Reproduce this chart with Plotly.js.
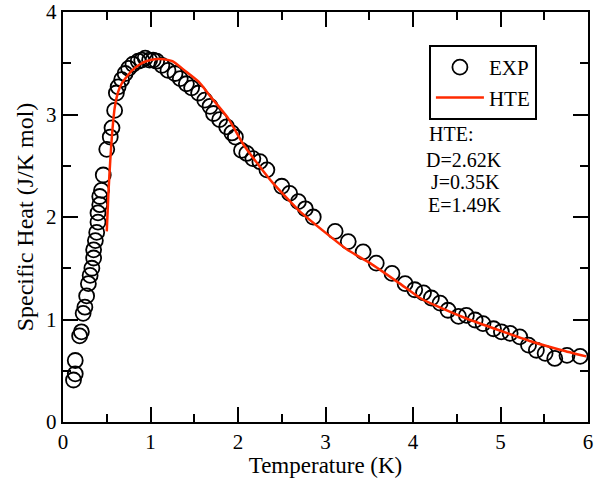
<!DOCTYPE html>
<html>
<head>
<meta charset="utf-8">
<script src="https://cdn.plot.ly/plotly-3.0.1.min.js"></script>
<style>html,body{margin:0;padding:0;background:#fff;}#chart{width:611px;height:478px;}</style>
</head>
<body>
<div id="chart"></div>
<script>
// Experimental specific heat (J/K mol) vs temperature (K)
var expT = [0.12, 0.14, 0.14, 0.19, 0.21, 0.23, 0.25, 0.27, 0.29, 0.31, 0.33, 0.35, 0.35, 0.37, 0.385, 0.40, 0.40, 0.42, 0.42, 0.44, 0.46, 0.50, 0.54, 0.56, 0.59, 0.61, 0.63, 0.67, 0.71, 0.75, 0.80, 0.86, 0.90, 0.94, 0.99, 1.03, 1.07, 1.13, 1.20, 1.28, 1.34, 1.41, 1.47, 1.55, 1.62, 1.68, 1.72, 1.79, 1.87, 1.93, 1.97, 2.04, 2.10, 2.17, 2.25, 2.33, 2.50, 2.59, 2.69, 2.77, 2.86, 3.11, 3.26, 3.43, 3.58, 3.76, 3.91, 4.02, 4.12, 4.21, 4.31, 4.40, 4.52, 4.61, 4.71, 4.80, 4.92, 5.01, 5.11, 5.22, 5.32, 5.41, 5.51, 5.62, 5.76, 5.91];
var expC = [0.41, 0.47, 0.60, 0.84, 0.88, 1.06, 1.12, 1.23, 1.35, 1.43, 1.50, 1.60, 1.68, 1.77, 1.85, 1.95, 2.04, 2.12, 2.20, 2.26, 2.41, 2.66, 2.78, 2.87, 3.04, 3.21, 3.27, 3.34, 3.40, 3.45, 3.49, 3.52, 3.53, 3.55, 3.53, 3.53, 3.52, 3.48, 3.43, 3.40, 3.35, 3.30, 3.26, 3.21, 3.14, 3.08, 3.01, 2.95, 2.88, 2.82, 2.78, 2.65, 2.62, 2.57, 2.54, 2.46, 2.30, 2.23, 2.15, 2.08, 2.00, 1.86, 1.76, 1.66, 1.55, 1.45, 1.35, 1.29, 1.26, 1.21, 1.16, 1.09, 1.03, 1.04, 0.995, 0.96, 0.91, 0.88, 0.865, 0.83, 0.75, 0.70, 0.67, 0.62, 0.65, 0.64];

// High-temperature expansion fit
var hteT = [0.50, 0.52, 0.54, 0.56, 0.59, 0.63, 0.67, 0.73, 0.79, 0.88, 0.95, 1.05, 1.15, 1.25, 1.39, 1.55, 1.70, 1.89, 2.06, 2.25, 2.40, 2.70, 3.01, 3.25, 3.51, 3.85, 4.08, 4.30, 4.61, 5.00, 5.37, 5.70, 5.98];
var hteC = [1.86, 2.25, 2.55, 2.80, 3.06, 3.22, 3.30, 3.37, 3.43, 3.49, 3.52, 3.54, 3.54, 3.52, 3.43, 3.32, 3.16, 2.96, 2.71, 2.49, 2.33, 2.06, 1.84, 1.68, 1.55, 1.35, 1.21, 1.12, 1.01, 0.89, 0.78, 0.70, 0.64];

var xTicks = [0, 1, 2, 3, 4, 5, 6];
var yTicks = [0, 1, 2, 3, 4];
var seriesNames = ["EXP", "HTE"];
var fitLabels = ["HTE:", "D=2.62K", "J=0.35K", "E=1.49K"];

var FONT = "'Liberation Serif', 'Times New Roman', Times, serif";

var traces = [
  {
    x: expT, y: expC, name: seriesNames[0], type: "scatter", mode: "markers",
    marker: {symbol: "circle-open", size: 15, color: "#000", line: {width: 1.8, color: "#000"}}
  },
  {
    x: hteT, y: hteC, name: seriesNames[1], type: "scatter", mode: "lines",
    line: {color: "#ff2a00", width: 2.5, shape: "spline", smoothing: 0.5}
  }
];

var axisCommon = {
  showline: true, linecolor: "#000", linewidth: 2.2, mirror: "ticks",
  ticks: "inside", ticklen: 15, tickwidth: 2, tickcolor: "#000",
  showgrid: false, zeroline: false,
  tickfont: {family: FONT, size: 21, color: "#000"}
};

var layout = {
  width: 611, height: 478,
  margin: {l: 63, r: 23, t: 12, b: 56},
  paper_bgcolor: "#fff", plot_bgcolor: "#fff",
  showlegend: true,
  font: {family: FONT, color: "#000"},
  xaxis: Object.assign({}, axisCommon, {
    range: [0, 6], tickvals: xTicks, ticktext: xTicks.map(String),
    minor: {ticks: "inside", ticklen: 8, tickwidth: 2, tickcolor: "#000", dtick: 0.5, showgrid: false},
    title: {text: "Temperature (K)", font: {family: FONT, size: 23, color: "#000"}, standoff: 2}
  }),
  yaxis: Object.assign({}, axisCommon, {
    range: [0, 4], tickvals: yTicks, ticktext: yTicks.map(String),
    minor: {ticks: "inside", ticklen: 8, tickwidth: 2, tickcolor: "#000", dtick: 0.5, showgrid: false},
    title: {text: "Specific Heat (J/K mol)", font: {family: FONT, size: 24, color: "#000"}, standoff: 6}
  }),
  legend: {
    x: 0.697, y: 0.9195, xanchor: "left", yanchor: "top",
    bordercolor: "#000", borderwidth: 2, bgcolor: "#fff",
    font: {family: FONT, size: 21, color: "#000"},
    itemwidth: 48, tracegroupgap: 0
  },
  annotations: [
    {x: 4.157, y: 2.813, text: fitLabels[0]},
    {x: 4.126, y: 2.559, text: fitLabels[1]},
    {x: 4.183, y: 2.340, text: fitLabels[2]},
    {x: 4.146, y: 2.120, text: fitLabels[3]}
  ].map(function (a) {
    return Object.assign(a, {xref: "x", yref: "y", xanchor: "left", yanchor: "middle",
      showarrow: false, font: {family: FONT, size: 20, color: "#000"}});
  })
};

Plotly.newPlot("chart", traces, layout, {staticPlot: true, displayModeBar: false});
</script>
</body>
</html>
